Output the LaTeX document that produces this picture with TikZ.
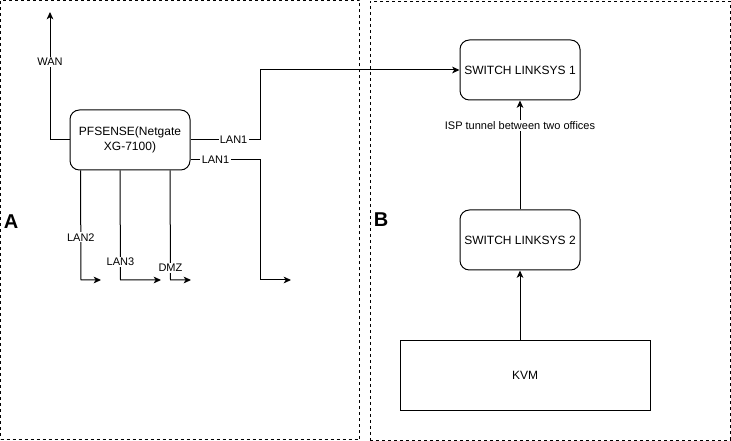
\documentclass[tikz,border=0pt]{standalone}
\usepackage{fontspec}
\setmainfont{Liberation Sans}
\usetikzlibrary{arrows.meta,calc}
\tikzset{
  box/.style={draw, line width=0.75pt, align=center, font=\fontsize{9}{11}\selectfont, inner sep=0pt},
  rbox/.style={box, rounded corners=7pt},
  cont/.style={draw, line width=0.6pt, dash pattern=on 2.25pt off 2.25pt, inner sep=0pt},
  arr/.style={line width=0.75pt, -{Stealth[length=5.5pt,width=5pt,inset=1.5pt]}},
  ln/.style={line width=0.75pt},
  elab/.style={fill=white, inner sep=1pt, font=\fontsize{8.25}{10}\selectfont},
  big/.style={font=\fontsize{15}{17}\bfseries\selectfont, inner sep=0pt}
}
\begin{document}
\begin{tikzpicture}[x=0.75pt,y=-0.75pt]
\useasboundingbox (0,0) rectangle (731,441);
% containers
\node[cont, minimum width=269.25pt, minimum height=329.25pt] (contA) at (180,220) {};
\node[cont, minimum width=270pt, minimum height=329.25pt] (contB) at (550,220.5) {};
\node[big] (lA) at (11,222) {A};
\node[big] (lB) at (381,220) {B};
% nodes
\node[rbox, minimum width=90pt, minimum height=45pt] (pf) at (130,140) {PFSENSE(Netgate\\XG-7100)};
\node[rbox, minimum width=90pt, minimum height=45pt] (sw1) at (520,70) {SWITCH LINKSYS 1};
\node[rbox, minimum width=90pt, minimum height=45pt] (sw2) at (520,240) {SWITCH LINKSYS 2};
\node[box, minimum width=187.5pt, minimum height=52.5pt] (kvm) at (525,375) {KVM};
% free ends
\coordinate (wanEnd) at (50,12);
\coordinate (lan2End) at (101,280);
\coordinate (lan3End) at (161,280);
\coordinate (dmzEnd) at (191,280);
\coordinate (lan1End) at (291,280);
% connectors
\draw[arr] (pf.west) -- (50,140) -- node[elab, pos=0.61] {WAN} (wanEnd);
\draw[arr] (pf.east) -- node[elab, pos=0.62] {LAN1} (260,140) -- (260,70) -- (sw1.west);
\draw[arr] ($(pf.east)+(0,20)$) -- node[elab, pos=0.36] {LAN1} (260,160) -- (260,280) -- (lan1End);
\draw[arr] ($(pf.south west)+(11,0)$) -- node[elab, pos=0.61] {LAN2} (81,280) -- (lan2End);
\draw[arr] ($(pf.south west)+(50.5,0)$) -- node[elab, pos=0.835] {LAN3} (120.5,280) -- (lan3End);
\draw[arr] ($(pf.south west)+(100.5,0)$) -- node[elab, pos=0.89] {DMZ} (170.5,280) -- (dmzEnd);
\draw[arr] (sw2.north) -- node[elab, pos=0.77] {ISP tunnel between two offices} (sw1.south);
\draw[arr] (kvm.north -| sw2.south) -- (sw2.south);
\end{tikzpicture}
\end{document}
